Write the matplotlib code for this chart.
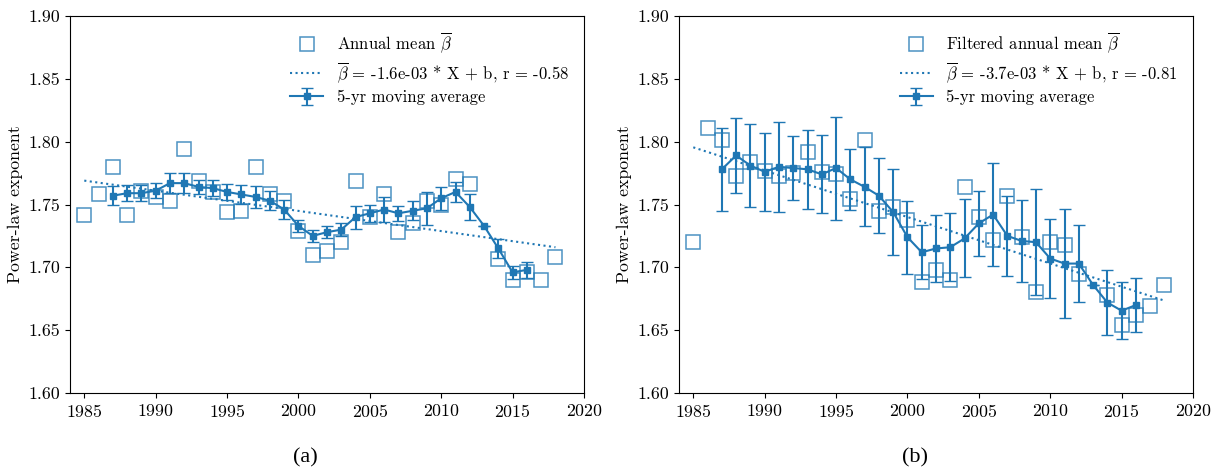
import numpy as np
import matplotlib
matplotlib.use('Agg')
import matplotlib.pyplot as plt

plt.rcParams['font.family'] = ['cmr10', 'DejaVu Serif']
plt.rcParams['mathtext.fontset'] = 'cm'
plt.rcParams['axes.formatter.use_mathtext'] = True
plt.rcParams['font.size'] = 12
plt.rcParams['xtick.labelsize'] = 12.8
plt.rcParams['ytick.labelsize'] = 12.8
plt.rcParams['axes.labelsize'] = 12.8

years = np.arange(1985, 2019)

# annual mean beta (2013 missing)
annual_a = [1.742, 1.758, 1.780, 1.742, 1.761, 1.756, 1.753, 1.794, 1.769, 1.760,
            1.744, 1.745, 1.780, 1.758, 1.753, 1.729, 1.710, 1.713, 1.720, 1.769,
            1.740, 1.758, 1.728, 1.735, 1.753, 1.750, 1.770, 1.766, np.nan, 1.707,
            1.690, 1.696, 1.690, 1.708]
annual_b = [1.720, 1.811, 1.801, 1.773, 1.784, 1.777, 1.773, 1.775, 1.792, 1.776,
            1.774, 1.754, 1.801, 1.745, 1.748, 1.738, 1.688, 1.698, 1.690, 1.764,
            1.740, 1.722, 1.757, 1.724, 1.680, 1.720, 1.7175, 1.695, np.nan, 1.678,
            1.654, 1.662, 1.669, 1.686]

# 5-yr moving average
ma_years = np.arange(1987, 2017)
ma_a = [1.757, 1.759, 1.759, 1.761, 1.767, 1.767, 1.764, 1.763, 1.760, 1.758,
        1.756, 1.753, 1.746, 1.733, 1.725, 1.728, 1.730, 1.740, 1.743, 1.746,
        1.743, 1.745, 1.747, 1.755, 1.760, 1.748, 1.733, 1.715, 1.696, 1.698]
ma_err_a = [0.0077, 0.0063, 0.0066, 0.0062, 0.0078, 0.0078, 0.0058, 0.0066, 0.0066, 0.0073,
            0.0089, 0.0076, 0.0076, 0.0050, 0.0047, 0.0050, 0.0053, 0.0092, 0.0066, 0.0103,
            0.0058, 0.0077, 0.0133, 0.0090, 0.0077, 0.0100, 0.0, 0.0073, 0.0053, 0.0062]
ma_b = [1.778, 1.789, 1.781, 1.776, 1.780, 1.779, 1.778, 1.774, 1.779, 1.770,
        1.764, 1.757, 1.744, 1.724, 1.712, 1.715, 1.716, 1.723, 1.735, 1.742,
        1.725, 1.721, 1.720, 1.707, 1.703, 1.703, 1.686, 1.672, 1.6655, 1.670]
ma_err_b = [0.033, 0.0295, 0.033, 0.031, 0.036, 0.0255, 0.0315, 0.031, 0.041, 0.024,
            0.0315, 0.030, 0.034, 0.029, 0.0215, 0.0265, 0.027, 0.031, 0.026, 0.041,
            0.0315, 0.0325, 0.042, 0.0315, 0.0435, 0.0305, 0.0, 0.0257, 0.0225, 0.0218]

# linear trend end points (1985, 2018)
trend_x = [1985, 2018]
trend_a = [1.769, 1.716]
trend_b = [1.7955, 1.6735]

labels_a = [r'Annual mean $\overline{\beta}$',
            r'$\overline{\beta}$ = -1.6e-03 * X + b, r = -0.58',
            '5-yr moving average']
labels_b = [r'Filtered annual mean $\overline{\beta}$',
            r'$\overline{\beta}$ = -3.7e-03 * X + b, r = -0.81',
            '5-yr moving average']

fig = plt.figure(figsize=(12.13, 4.72), dpi=100)
ax1 = fig.add_axes([70/1213, 79/472, 514/1213, 377/472])
ax2 = fig.add_axes([679/1213, 79/472, 514/1213, 377/472])

def panel(ax, annual, trend, ma, ma_err, labels):
    h1, = ax.plot(years, annual, 's', mfc='none', mec='tab:blue', ms=10.5, mew=1.1,
                  alpha=0.8, label=labels[0])
    h2, = ax.plot(trend_x, trend, ':', color='tab:blue', lw=1.5, label=labels[1])
    h3 = ax.errorbar(ma_years, ma, yerr=ma_err, color='tab:blue', marker='s', ms=4,
                     lw=1.5, capsize=4, label=labels[2])
    ax.set_xlim(1984, 2020)
    ax.set_ylim(1.60, 1.90)
    ax.set_xticks(range(1985, 2021, 5))
    ax.set_yticks(np.arange(1.60, 1.901, 0.05))
    ax.set_yticklabels(['%.2f' % v for v in np.arange(1.60, 1.901, 0.05)])
    ax.set_ylabel('Power-law exponent')
    ax.legend([h1, h2, h3], labels, loc='upper right', frameon=False,
              bbox_to_anchor=(1.0, 1.0), labelspacing=0.3)

panel(ax1, annual_a, trend_a, ma_a, ma_err_a, labels_a)
panel(ax2, annual_b, trend_b, ma_b, ma_err_b, labels_b)

fig.text(305/1213, 1 - 458/472, '(a)', ha='center', va='center',
         family='Liberation Serif', fontsize=16)
fig.text(915/1213, 1 - 458/472, '(b)', ha='center', va='center',
         family='Liberation Serif', fontsize=16)

fig.savefig('out.png', dpi=100)
